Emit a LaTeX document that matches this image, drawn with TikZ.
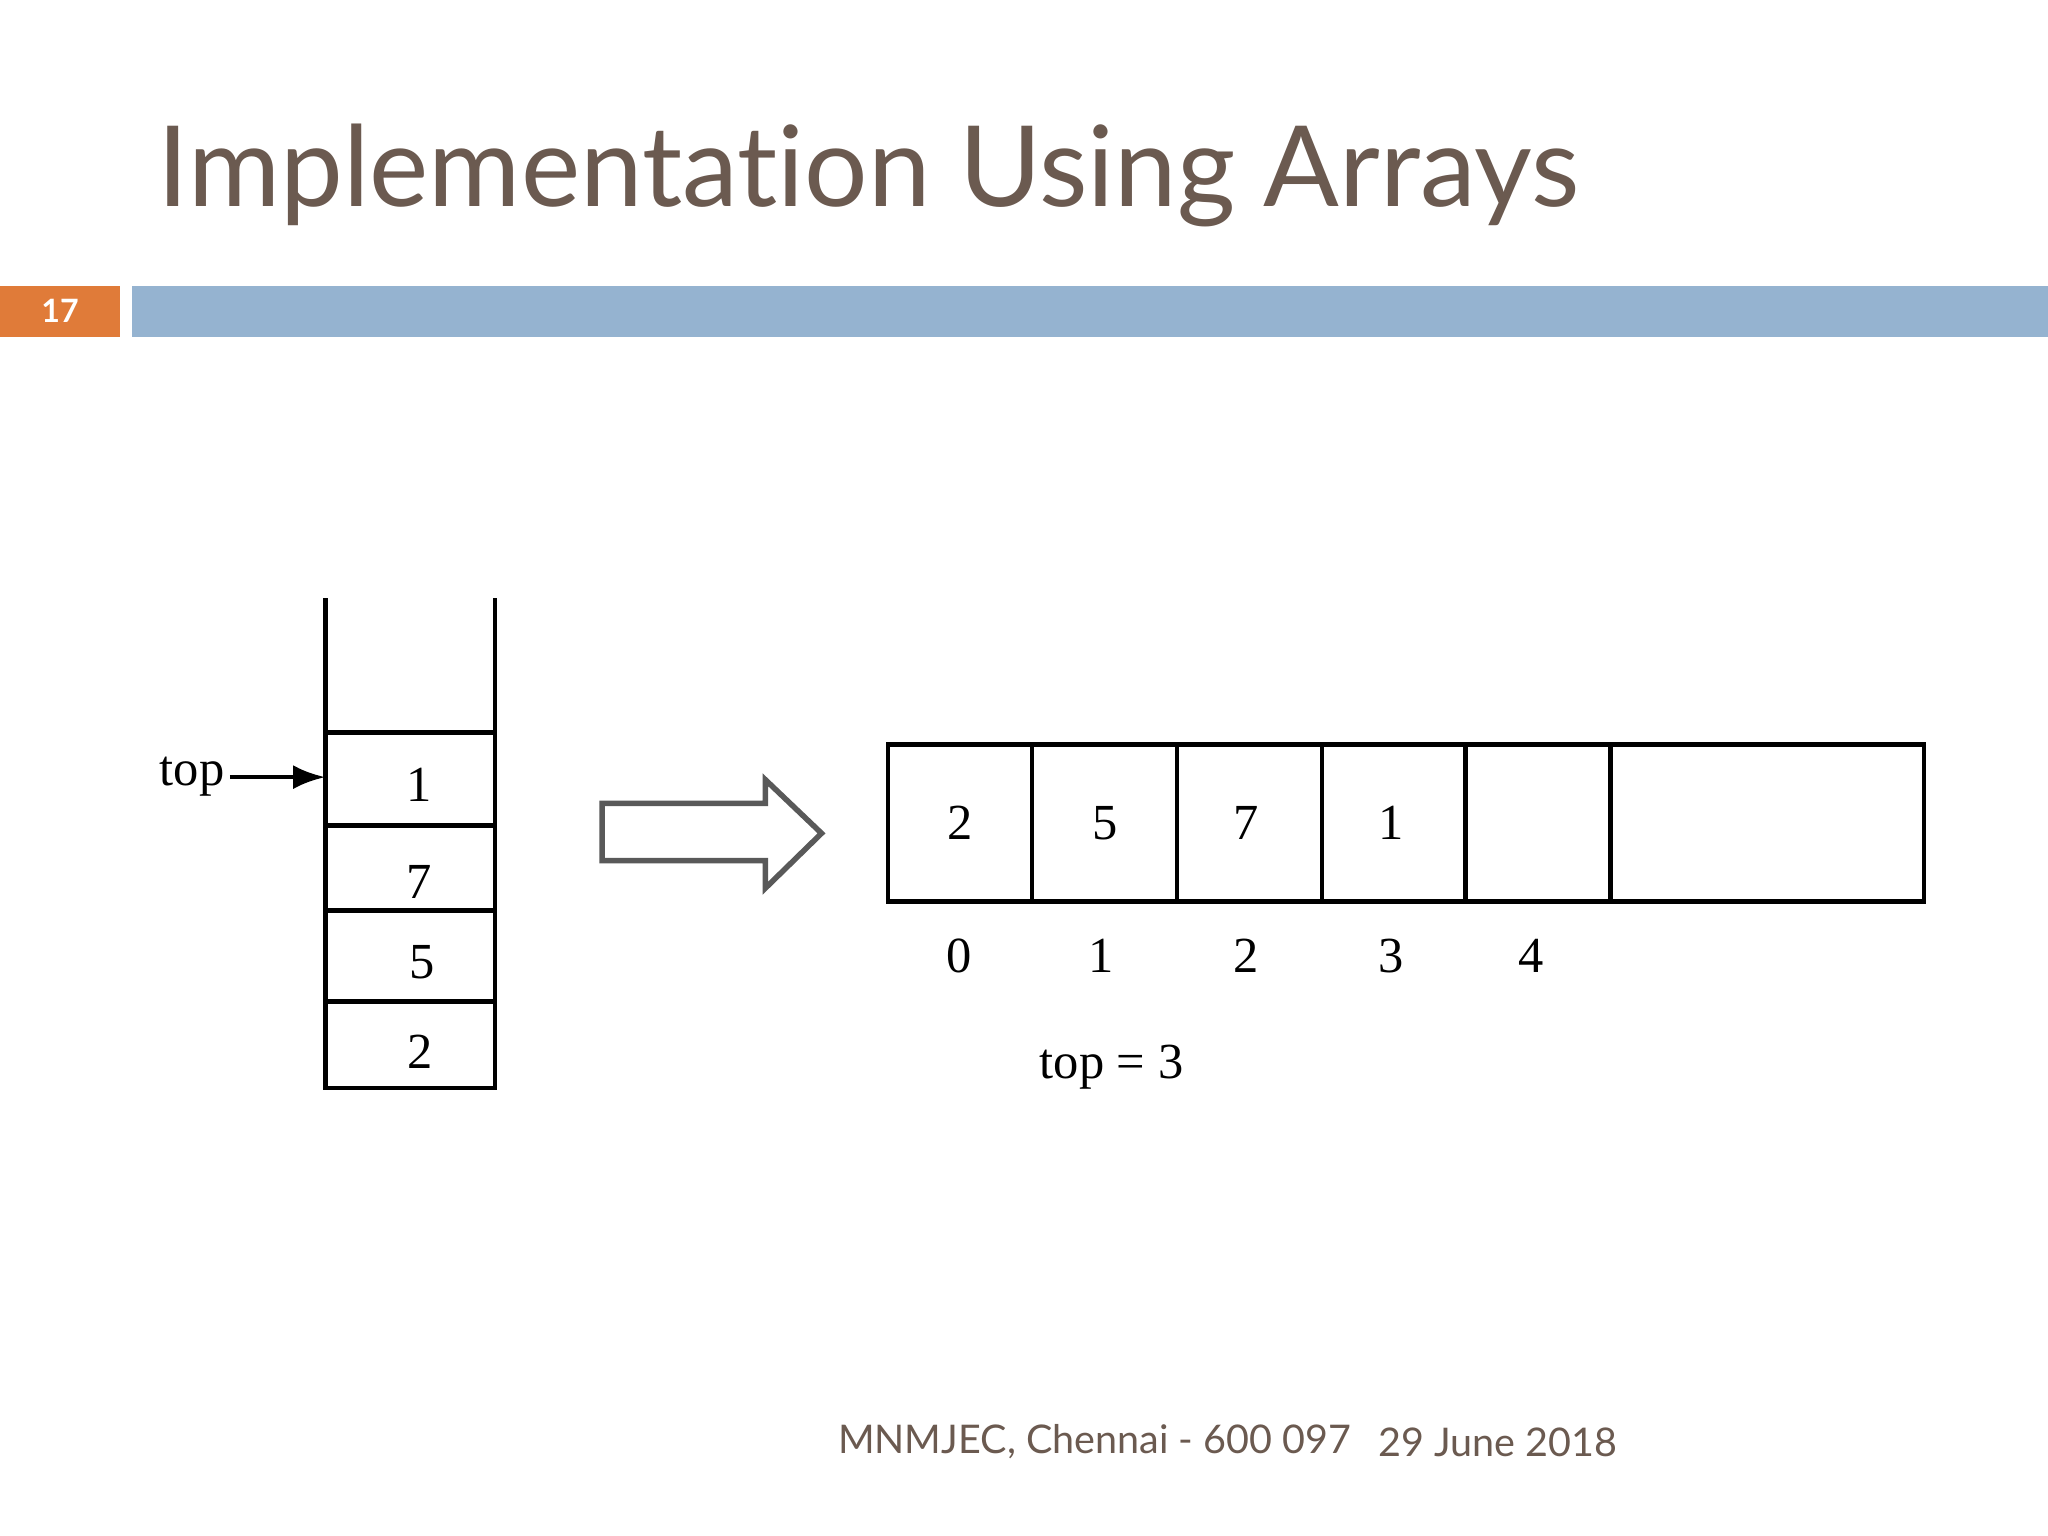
\documentclass[tikz,border=0pt]{standalone}
\usepackage{fontspec}
\setmainfont{Liberation Serif}
\newfontfamily\slidefont[Ligatures=NoCommon,Contextuals=NoAlternate]{Lato}
\usetikzlibrary{arrows.meta}
\definecolor{brownt}{HTML}{6B5A50}
\definecolor{barblue}{HTML}{95B3D0}
\definecolor{barorange}{HTML}{E07B39}
\begin{document}
\begin{tikzpicture}[x=0.01cm,y=-0.01cm,
  dig/.style={font=\fontsize{11}{12}\selectfont},
  ln/.style={line width=1pt}]
\useasboundingbox (0,0) rectangle (1568,1176);
\fill[white] (0,0) rectangle (1568,1176);
\node[anchor=base west,text=brownt,inner sep=0,font=\slidefont\fontsize{24.4}{28}\selectfont] (title) at (120,158) {Implementa{}tion Using Arrays};
\fill[barorange] (0,219) rectangle (92,258);
\node[text=white,font=\slidefont\bfseries\fontsize{7}{8}\selectfont] (num) at (46,238) {17};
\fill[barblue] (101,219) rectangle (1568,258);
% stack
\draw[ln] (249,458) -- (249,833) -- (379,833) -- (379,458);
\foreach \y in {561,632,697,767} \draw[ln] (249,\y) -- (379,\y);
\node[dig] (s1) at (321,601) {1};
\node[dig] (s7) at (321,675) {7};
\node[dig] (s5) at (323,737) {5};
\node[dig] (s2) at (322,805) {2};
\node[dig,inner sep=1pt] (toplbl) at (147,595) {top};
\coordinate (stk) at (249,595);
\draw[line width=1pt,-{Latex[length=7pt]}] (toplbl.east) -- (stk);
% hollow arrow
\draw[line width=1.2pt,gray!70!black] (461,615) -- (586,615) -- (586,597) -- (629,638) -- (586,680) -- (586,659) -- (461,659) -- cycle;
% array
\draw[ln] (680,570) rectangle (1473,690);
\foreach \x in {790,901,1012,1122,1233} \draw[ln] (\x,570) -- (\x,690);
\node[dig] (a0) at (735,630) {2};
\node[dig] (a1) at (846,630) {5};
\node[dig] (a2) at (954,630) {7};
\node[dig] (a3) at (1065,630) {1};
\node[dig] (i0) at (734,732) {0};
\node[dig] (i1) at (843,732) {1};
\node[dig] (i2) at (954,732) {2};
\node[dig] (i3) at (1065,732) {3};
\node[dig] (i4) at (1172,732) {4};
\node[dig] (topeq) at (851,817) {top = 3};
% footer
\node[text=brownt,font=\slidefont\fontsize{8.6}{10}\selectfont] (f1) at (838,1104) {MNMJEC, Chennai - 600 097};
\node[text=brownt,font=\slidefont\fontsize{8.6}{10}\selectfont] (f2) at (1147,1104) {29 June 2018};
\end{tikzpicture}
\end{document}
